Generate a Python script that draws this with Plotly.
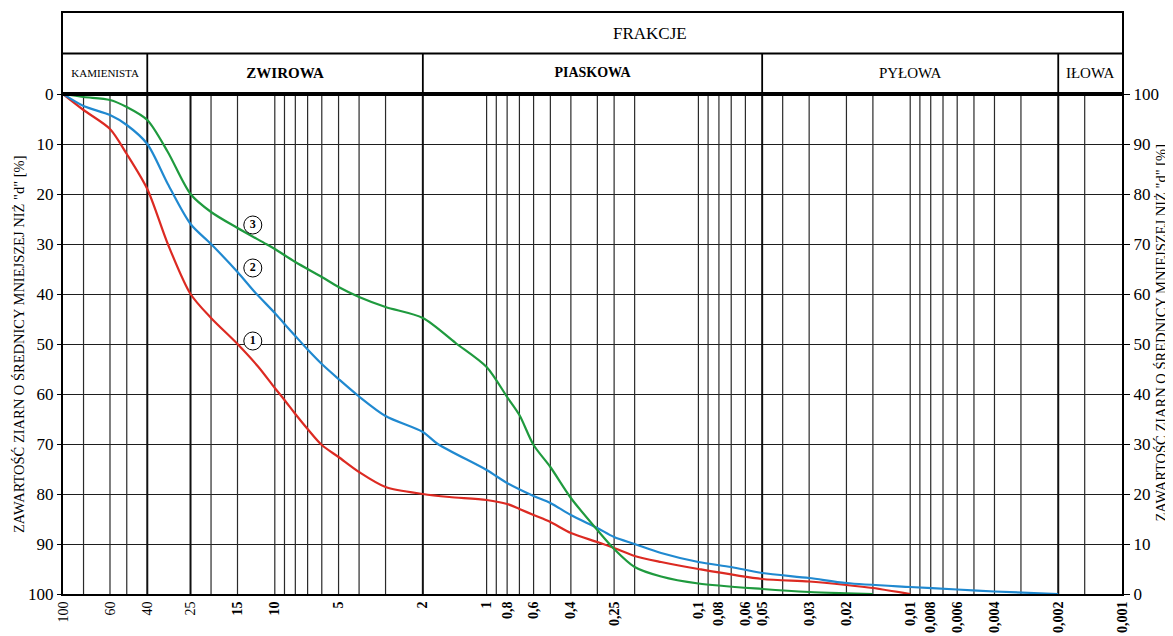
import numpy as np
import plotly.graph_objects as go

# ---------------- data ----------------
# grain diameter d [mm] and content of grains smaller than d [%]
d_1 = [100, 80, 60, 50, 40, 32, 25, 20, 15, 12, 10, 9, 8, 7, 6, 5, 4, 3, 2, 1.5, 1,
       0.8, 0.7, 0.6, 0.5, 0.4, 0.3, 0.25, 0.2, 0.15, 0.1, 0.05, 0.03, 0.02, 0.015, 0.01]
p_1 = [100, 96.8, 93, 88, 81, 70, 60, 55.2, 50, 45.5, 41.2, 38.8, 36, 33, 29.8, 27.4, 24.4, 21.4, 20, 19.4, 18.8,
       18, 17, 15.8, 14.4, 12.2, 10.4, 9.2, 7.6, 6.4, 5, 3, 2.5, 1.8, 1.2, 0]

d_2 = [100, 80, 60, 50, 40, 32, 25, 20, 15, 12.5, 10, 9, 8, 7, 6, 5, 4, 3, 2, 1.7, 1,
       0.8, 0.6, 0.5, 0.4, 0.3, 0.25, 0.2, 0.15, 0.1, 0.07, 0.05, 0.03, 0.02, 0.01, 0.006, 0.004, 0.002]
p_2 = [100, 97.6, 95.8, 93.8, 90, 82, 74, 70, 64.4, 60.5, 56.2, 54, 51.6, 48.9, 46, 43, 39.5, 35.6, 32.4, 30, 24.8,
       22.2, 19.6, 18.2, 15.8, 13.2, 11.4, 10, 8.2, 6.4, 5.4, 4.2, 3.2, 2.2, 1.4, 0.9, 0.5, 0]

d_3 = [100, 80, 60, 50, 40, 32, 25, 20, 15, 11, 10, 8, 6, 5, 4, 3, 2, 1.4, 1,
       0.8, 0.7, 0.6, 0.5, 0.4, 0.3, 0.25, 0.2, 0.15, 0.1, 0.05, 0.03, 0.02, 0.015]
p_3 = [100, 99.4, 98.8, 97.4, 94.8, 88.4, 80, 76.4, 73.2, 70, 69, 66.4, 63.4, 61.4, 59.4, 57.4, 55.2, 50.2, 45.4,
       39.4, 35.8, 29.8, 25.4, 19.2, 12.8, 9, 5.4, 3.5, 2.1, 1.0, 0.4, 0.15, 0]

curve_names = ["1", "2", "3"]
curve_colors = ["#dc2a22", "#2089d0", "#1f9a3e"]

label_d = [12.7, 12.7, 12.7]
label_p = [50.6, 65.2, 73.8]

# x tick labels
tick_vals = [100, 60, 40, 25, 15, 10, 5, 2, 1, 0.8, 0.6, 0.4, 0.25, 0.1, 0.08, 0.06, 0.05,
             0.03, 0.02, 0.01, 0.008, 0.006, 0.004, 0.002, 0.001]
tick_text = ["100", "60", "40", "25", "<b>15</b>", "<b>10</b>", "<b>5</b>", "<b>2</b>", "<b>1</b>",
             "<b>0,8</b>", "<b>0,6</b>", "<b>0,4</b>", "<b>0,25</b>", "<b>0,1</b>", "<b>0,08</b>",
             "<b>0,06</b>", "<b>0,05</b>", "<b>0,03</b>", "<b>0,02</b>", "<b>0,01</b>", "<b>0,008</b>",
             "<b>0,006</b>", "<b>0,004</b>", "<b>0,002</b>", "<b>0,001</b>"]

# vertical grid lines of the sheet
grid_d = [80, 60, 50, 20, 15, 10, 9, 8, 7, 6, 5, 4, 3, 1, 0.9, 0.8, 0.7, 0.6, 0.5, 0.4, 0.3,
          0.25, 0.2, 0.1, 0.09, 0.08, 0.07, 0.06, 0.04, 0.03, 0.02, 0.015, 0.01, 0.009,
          0.008, 0.007, 0.006, 0.005, 0.004, 0.003, 0.0015]
bound_d = [40, 25, 2, 0.05, 0.002]

# fractions
frac_names = ["KAMIENISTA", "<b>ZWIROWA</b>", "<b>PIASKOWA</b>", "PYŁOWA", "IŁOWA"]
frac_bounds = [100, 40, 2, 0.05, 0.002, 0.001]
frac_font = [11, 15, 14, 15, 15]

y_ticks = list(range(0, 101, 10))

SERIF = "Liberation Serif"

# ---------------- figure ----------------
fig = go.Figure()


def vlines(ds, y0, y1):
    xs, ys = [], []
    for d in ds:
        xs += [d, d, None]
        ys += [y0, y1, None]
    return xs, ys


gx, gy = vlines(grid_d, 0, 100)
fig.add_trace(go.Scatter(x=gx, y=gy, xaxis="x", yaxis="y", mode="lines",
                         line=dict(color="#2a2a2a", width=1.2), hoverinfo="skip", showlegend=False))
bx, by = vlines(bound_d, 0, 100)
fig.add_trace(go.Scatter(x=bx, y=by, xaxis="x", yaxis="y", mode="lines",
                         line=dict(color="#111111", width=2), hoverinfo="skip", showlegend=False))

for d, p, nm, col in zip([d_1, d_2, d_3], [p_1, p_2, p_3], curve_names, curve_colors):
    fig.add_trace(go.Scatter(x=d, y=p, xaxis="x", yaxis="y2", mode="lines", name=nm,
                             line=dict(color=col, width=2.2, shape="spline", smoothing=0.8),
                             showlegend=False))

fig.add_trace(go.Scatter(x=label_d, y=label_p, xaxis="x", yaxis="y2", mode="markers+text",
                         text=["<b>%s</b>" % n for n in curve_names], textposition="middle center",
                         textfont=dict(family=SERIF, size=12, color="black"),
                         marker=dict(symbol="circle", size=18, color="white",
                                     line=dict(color="black", width=1)),
                         hoverinfo="skip", showlegend=False))

# header: dividers of the lower row and middle line
hx, hy = vlines(frac_bounds[1:-1], 0, 1)
hx += [frac_bounds[0], frac_bounds[-1], None]
hy += [1, 1, None]
fig.add_trace(go.Scatter(x=hx, y=hy, xaxis="x2", yaxis="y3", mode="lines",
                         line=dict(color="black", width=1.8), hoverinfo="skip", showlegend=False))

frac_x = [np.sqrt(a * b) for a, b in zip(frac_bounds[:-1], frac_bounds[1:])]
for nm, fx, fs in zip(frac_names, frac_x, frac_font):
    fig.add_trace(go.Scatter(x=[fx], y=[0.5], xaxis="x2", yaxis="y3", mode="text", text=[nm],
                             textfont=dict(family=SERIF, size=fs, color="black"),
                             hoverinfo="skip", showlegend=False, cliponaxis=False))

H_MAIN = 500
H_HEAD = 81
split = H_MAIN / (H_MAIN + H_HEAD)

# the page body adds an 8 px offset, so the figure is 8 px smaller than the window
fig.update_layout(
    width=1165, height=628,
    margin=dict(l=55, r=51, t=5, b=42),
    template="none",
    paper_bgcolor="white", plot_bgcolor="white",
    showlegend=False,
    font=dict(family=SERIF, color="black"),
    xaxis=dict(type="log", range=[2, -3], domain=[0, 1], anchor="y",
               tickmode="array", tickvals=tick_vals, ticktext=tick_text, tickangle=-90,
               tickfont=dict(family=SERIF, size=14, color="black"),
               showgrid=False, zeroline=False, showline=True, linecolor="black", linewidth=2,
               mirror=True, ticks="", automargin=False),
    yaxis=dict(range=[100, 0], domain=[0, split], anchor="x", tickmode="array", tickvals=y_ticks,
               tickfont=dict(family=SERIF, size=17, color="black"),
               showgrid=True, gridcolor="#1e1e1e", gridwidth=1.2, zeroline=False,
               showline=True, linecolor="black", linewidth=2, mirror=True,
               ticks="outside", ticklen=4, tickcolor="black", automargin=False),
    yaxis2=dict(range=[0, 100], domain=[0, split], overlaying="y", side="right", anchor="x",
                tickmode="array", tickvals=y_ticks,
                tickfont=dict(family=SERIF, size=17, color="black"),
                showgrid=False, zeroline=False, ticks="outside", ticklen=7, tickcolor="black",
                automargin=False),
    xaxis2=dict(type="log", matches="x", anchor="y3", showticklabels=False, showgrid=False,
                zeroline=False, showline=True, linecolor="black", linewidth=2, mirror=True,
                ticks=""),
    yaxis3=dict(range=[0, 2], domain=[split, 1], anchor="x2", showticklabels=False,
                showgrid=False, zeroline=False, showline=True, linecolor="black",
                linewidth=2, mirror=True, ticks=""),
)

fig.add_annotation(text="FRAKCJE", xref="paper", yref="y3", x=0.554, y=1.5, showarrow=False,
                   font=dict(family=SERIF, size=17, color="black"))

axis_title = 'ZAWARTOŚĆ ZIARN O ŚREDNICY MNIEJSZEJ NIŻ "d" [%]'
fig.add_annotation(text=axis_title, xref="paper", yref="paper", x=-0.0415, y=split / 2,
                   textangle=-90, showarrow=False, xanchor="center", yanchor="middle",
                   font=dict(family=SERIF, size=14.5, color="black"))
fig.add_annotation(text=axis_title, xref="paper", yref="paper", x=1.037, y=split / 2 + 0.02,
                   textangle=-90, showarrow=False, xanchor="center", yanchor="middle",
                   font=dict(family=SERIF, size=14.5, color="black"))

fig.write_html("out.html")
